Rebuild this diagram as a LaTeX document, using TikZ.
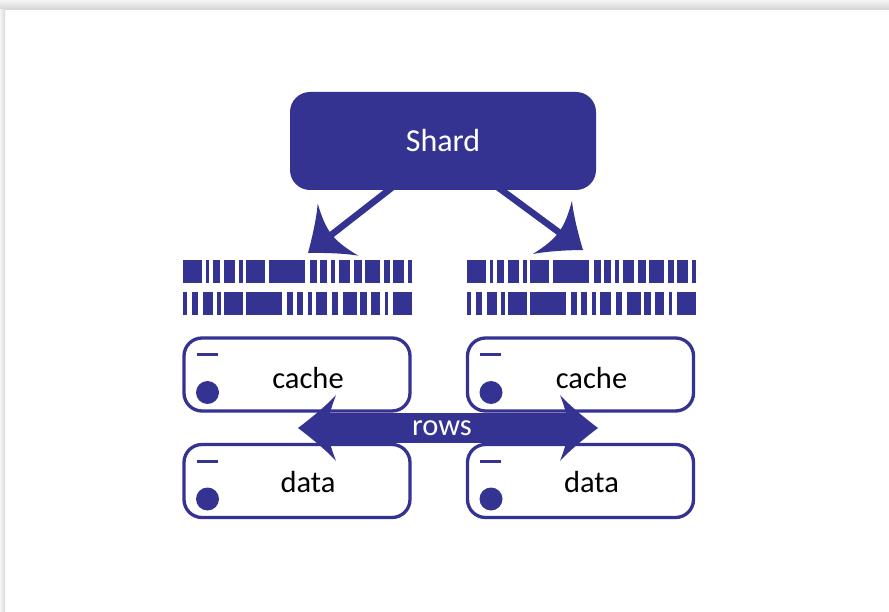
\documentclass[tikz,border=0pt]{standalone}
\usepackage{fontspec}
\setmainfont{Carlito}
\definecolor{indigo}{RGB}{53,51,145}

% swept arrow head with curved sides
\pgfdeclarearrow{
  name = Swept,
  setup code = {
    \pgfarrowssettipend{0pt}
    \pgfarrowssetlineend{-28pt}
    \pgfarrowssetvisualbackend{-30pt}
    \pgfarrowssetbackend{-38pt}
    \pgfarrowshullpoint{0pt}{0pt}
    \pgfarrowsupperhullpoint{-38pt}{33pt}
  },
  drawing code = {
    \pgfpathmoveto{\pgfpointorigin}
    \pgfpathcurveto{\pgfpoint{-12pt}{9pt}}{\pgfpoint{-28pt}{22pt}}{\pgfpoint{-38pt}{33pt}}
    \pgfpathcurveto{\pgfpoint{-33pt}{20pt}}{\pgfpoint{-30pt}{10pt}}{\pgfpoint{-30pt}{0pt}}
    \pgfpathcurveto{\pgfpoint{-30pt}{-10pt}}{\pgfpoint{-33pt}{-20pt}}{\pgfpoint{-38pt}{-33pt}}
    \pgfpathcurveto{\pgfpoint{-28pt}{-22pt}}{\pgfpoint{-12pt}{-9pt}}{\pgfpointorigin}
    \pgfpathclose
    \pgfusepathqfill
  }
}

\begin{document}
\begin{tikzpicture}[x=1pt,y=-1pt,
  shardbox/.style={rectangle,rounded corners=20pt,fill=indigo,text=white,
    minimum width=306pt,minimum height=98pt,font=\fontsize{32}{38}\selectfont},
  srvbox/.style={rectangle,rounded corners=18pt,draw=indigo,line width=3.3pt,fill=white,
    minimum width=226pt,minimum height=73pt,
    path picture={
      \draw[indigo,line width=3pt] ([shift={(12.5pt,-16.5pt)}]path picture bounding box.north west) -- ++(21pt,0pt);
      \fill[indigo] ([shift={(23.5pt,-54.5pt)}]path picture bounding box.north west) circle (11.5pt);
    }},
  srvtext/.style={font=\fontsize{30.5}{36}\selectfont,xshift=11pt},
  flow/.style={indigo,line width=6.5pt,-Swept},
  rowsarrow/.style={indigo,line width=30pt,Swept-Swept},
  rowstext/.style={text=white,font=\fontsize{30.5}{36}\selectfont}]

% page
\fill[white] (0,0) rectangle (889,612);
\shade[top color=gray!8,bottom color=gray!35] (0,0) rectangle (889,10);
\shade[left color=gray!8,right color=gray!30] (0,10) rectangle (5,612);
\useasboundingbox (0,0) rectangle (889,612);

\node (shard) at (443,141)[shardbox]{Shard};

\coordinate (logL) at (308,253);
\coordinate (logR) at (583,250);
\draw[flow] ([xshift=-48pt,yshift=5pt]shard.south) -- (logL);
\draw[flow] ([xshift=52pt,yshift=5pt]shard.south) -- (logR);

% log bars
\foreach \ox in {183,467}{
  \foreach \a/\b in {0/19,23/26,30/37,41/52,56/60,63/82,86/122,127/134,137/144,148/152,156/167,171/179,182/197,201/207,210/221,225/229}
    \fill[indigo] (\ox+\a,260) rectangle (\ox+\b,283);
  \foreach \a/\b in {0/4,9/15,20/30,34/38,41/60,63/99,104/110,114/120,125/129,133/144,149/155,160/174,177/184,188/197,202/205,210/229}
    \fill[indigo] (\ox+\a,292) rectangle (\ox+\b,315);
}

\node (cacheL) at (297,374.5)[srvbox,label={[srvtext,yshift=-4pt]center:cache}]{};
\node (cacheR) at (580.5,374.5)[srvbox,label={[srvtext,yshift=-4pt]center:cache}]{};
\node (dataL) at (297,481)[srvbox,label={[srvtext,yshift=-1.5pt]center:data}]{};
\node (dataR) at (580.5,481)[srvbox,label={[srvtext,yshift=-1.5pt]center:data}]{};

\coordinate (rowsL) at (298,428);
\coordinate (rowsR) at (598,428);
\draw[rowsarrow] (rowsL) -- node[rowstext,pos=0.48] (rows) {rows} (rowsR);
\end{tikzpicture}
\end{document}
